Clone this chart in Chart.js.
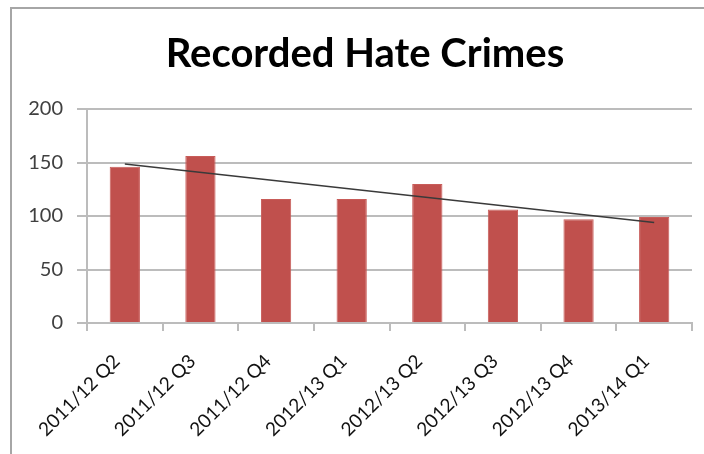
<!DOCTYPE html>
<html>
<head>
<meta charset="utf-8">
<script src="https://cdn.jsdelivr.net/npm/chart.js@4"></script>
<style>
  html, body { margin: 0; padding: 0; background: #fff; overflow: hidden; }
  #frame { position: absolute; left: 10px; top: 7px; width: 706px; height: 460px;
           border: 2px solid #a6a6a6; }
  #frame canvas { display: block; }
</style>
</head>
<body>
<div id="frame"><canvas id="chart" width="706" height="460"></canvas></div>
<script>
const categories = ['2011/12 Q2', '2011/12 Q3', '2011/12 Q4', '2012/13 Q1',
                    '2012/13 Q2', '2012/13 Q3', '2012/13 Q4', '2013/14 Q1'];
const hateCrimes = [146, 156, 116, 116, 130, 106, 97, 99];
// linear trendline as drawn in the picture: first and last point only
const trendLine = [148.5, null, null, null, null, null, null, 94];
const yTicks = [0, 50, 100, 150, 200];

const font = 'Lato, "Open Sans", sans-serif';
const gridColor = '#bcbcbc';

new Chart(document.getElementById('chart').getContext('2d'), {
  type: 'bar',
  data: {
    labels: categories,
    datasets: [
      {
        type: 'line',
        label: 'Trend',
        data: trendLine,
        spanGaps: true,
        borderColor: '#3a3a3a',
        borderWidth: 1.5,
        pointRadius: 0,
        fill: false,
        order: 0
      },
      {
        label: 'Recorded Hate Crimes',
        data: hateCrimes,
        backgroundColor: '#c0504d',
        borderColor: '#c85c59',
        borderWidth: 1,
        barPercentage: 0.4,
        categoryPercentage: 1,
        order: 1
      }
    ]
  },
  options: {
    responsive: false,
    animation: false,
    layout: { padding: 0 },
    plugins: {
      legend: { display: false },
      tooltip: { enabled: false },
      title: {
        display: true,
        text: 'Recorded Hate Crimes',
        color: '#000',
        font: { family: font, size: 40, weight: 'bold' },
        padding: { top: 21, bottom: 31 }
      }
    },
    scales: {
      y: {
        min: yTicks[0],
        max: yTicks[yTicks.length - 1],
        afterBuildTicks: s => { s.ticks = yTicks.map(v => ({ value: v })); },
        afterFit: s => { s.width = 75; },
        ticks: { color: '#404040', padding: 14, font: { family: font, size: 20 } },
        grid: { color: gridColor, lineWidth: 2, tickLength: 10 },
        border: { color: gridColor, width: 2 }
      },
      // empty right-hand spacer so the plot ends where the reference's does
      spacer: {
        position: 'right',
        afterFit: s => { s.width = 26; },
        ticks: { display: false },
        grid: { display: false },
        border: { display: false }
      },
      x: {
        afterFit: s => { s.height = 146; },
        ticks: {
          color: '#111', minRotation: 45, maxRotation: 45, padding: 19, labelOffset: -8,
          font: { family: font, size: 19 }
        },
        grid: { offset: true, drawOnChartArea: false, color: gridColor, lineWidth: 2, tickLength: 8 },
        border: { color: gridColor, width: 2 }
      }
    }
  }
});
</script>
</body>
</html>
